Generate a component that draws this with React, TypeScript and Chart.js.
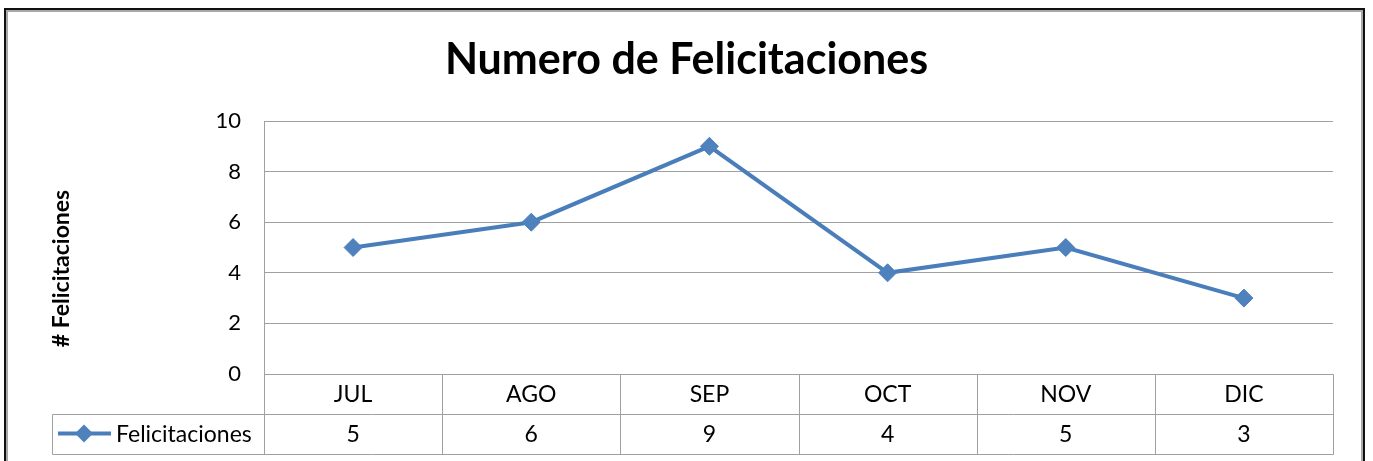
import React, { useEffect, useRef } from 'react';
import { Chart, registerables } from 'chart.js';

Chart.register(...registerables);

const categories = ['JUL', 'AGO', 'SEP', 'OCT', 'NOV', 'DIC'];
const felicitaciones = [5, 6, 9, 4, 5, 3];
const yTicks = [0, 2, 4, 6, 8, 10];
const seriesName = 'Felicitaciones';
const chartTitle = 'Numero de Felicitaciones';
const yAxisTitle = '# Felicitaciones';

const FONT = 'Lato';
const LINE_COLOR = '#4a7ebb';
const MARKER_COLOR = '#4f81bd';
const GRID_COLOR = '#a0a0a0';

const framePlugin = {
  id: 'frame',
  beforeDraw(chart: any) {
    const ctx = chart.ctx;
    ctx.save();
    ctx.fillStyle = '#ffffff';
    ctx.fillRect(0, 0, chart.width, chart.height);
    ctx.lineWidth = 2;
    ctx.strokeStyle = '#111111';
    ctx.strokeRect(5, 9, 1359, chart.height + 40);
    ctx.strokeStyle = '#a8a8a8';
    ctx.strokeRect(7, 11, 1355, chart.height + 40);
    ctx.restore();
  },
};

const yTitlePlugin = {
  id: 'yTitle',
  afterDraw(chart: any) {
    const { ctx, chartArea } = chart;
    ctx.save();
    ctx.translate(62, (chartArea.top + chartArea.bottom) / 2 + 21);
    ctx.rotate(-Math.PI / 2);
    ctx.fillStyle = '#000000';
    ctx.font = `bold 23px ${FONT}`;
    ctx.textAlign = 'center';
    ctx.textBaseline = 'middle';
    ctx.fillText(yAxisTitle, 0, 0);
    ctx.restore();
  },
};

const dataTablePlugin = {
  id: 'dataTable',
  afterDraw(chart: any) {
    const { ctx, chartArea } = chart;
    const xs = chart.scales.x;
    const px = (v: number) => Math.round(v) + 0.5;
    const left = px(chartArea.left);
    const right = px(chartArea.right);
    const top = px(chartArea.bottom);
    const rowH = 40;
    const legendLeft = 52.5;
    const half = (xs.getPixelForValue(1) - xs.getPixelForValue(0)) / 2;

    ctx.save();
    ctx.strokeStyle = GRID_COLOR;
    ctx.lineWidth = 1;
    ctx.beginPath();
    ctx.moveTo(left, top);
    ctx.lineTo(right, top);
    ctx.moveTo(legendLeft, top + rowH);
    ctx.lineTo(right, top + rowH);
    ctx.moveTo(legendLeft, top + 2 * rowH);
    ctx.lineTo(right, top + 2 * rowH);
    ctx.moveTo(legendLeft, top + rowH);
    ctx.lineTo(legendLeft, top + 2 * rowH);
    ctx.moveTo(left, top);
    ctx.lineTo(left, top + 2 * rowH);
    categories.forEach((_, i) => {
      const bx = px(xs.getPixelForValue(i) + half);
      ctx.moveTo(bx, top);
      ctx.lineTo(bx, top + 2 * rowH);
    });
    ctx.stroke();

    ctx.fillStyle = '#000000';
    ctx.font = `23px ${FONT}`;
    ctx.textAlign = 'center';
    ctx.textBaseline = 'middle';
    categories.forEach((c, i) => {
      const cx = xs.getPixelForValue(i);
      ctx.fillText(c, cx, top + rowH / 2);
      ctx.fillText(String(felicitaciones[i]), cx, top + 1.5 * rowH);
    });

    const ly = top + 1.5 * rowH - 1;
    ctx.strokeStyle = LINE_COLOR;
    ctx.lineWidth = 4;
    ctx.beginPath();
    ctx.moveTo(58, ly);
    ctx.lineTo(111, ly);
    ctx.stroke();
    const dx = 84;
    const r = 9;
    ctx.fillStyle = MARKER_COLOR;
    ctx.beginPath();
    ctx.moveTo(dx - r, ly);
    ctx.lineTo(dx, ly - r);
    ctx.lineTo(dx + r, ly);
    ctx.lineTo(dx, ly + r);
    ctx.closePath();
    ctx.fill();

    ctx.fillStyle = '#000000';
    ctx.textAlign = 'left';
    ctx.fillText(seriesName, 116, top + 1.5 * rowH);
    ctx.restore();
  },
};

export default function App() {
  const canvasRef = useRef<HTMLCanvasElement | null>(null);

  useEffect(() => {
    if (!canvasRef.current) return;
    const chart = new Chart(canvasRef.current, {
      type: 'line',
      data: {
        labels: categories,
        datasets: [
          {
            label: seriesName,
            data: felicitaciones,
            borderColor: LINE_COLOR,
            borderWidth: 4,
            backgroundColor: MARKER_COLOR,
            pointStyle: 'rectRot',
            pointRadius: 9,
            pointBorderWidth: 1,
            pointBorderColor: MARKER_COLOR,
            pointBackgroundColor: MARKER_COLOR,
            tension: 0,
          },
        ],
      },
      options: {
        animation: false,
        responsive: true,
        maintainAspectRatio: false,
        layout: { padding: { top: 0, left: 40, right: 40, bottom: 87 } },
        plugins: {
          legend: { display: false },
          tooltip: { enabled: false },
          title: {
            display: true,
            text: chartTitle,
            color: '#000000',
            font: { family: FONT, size: 43, weight: 'bold' },
            padding: { top: 34, bottom: 35.4 },
          },
        },
        scales: {
          x: {
            type: 'category',
            offset: true,
            display: false,
          },
          y: {
            min: yTicks[0],
            max: yTicks[yTicks.length - 1],
            afterFit: (scale: any) => {
              scale.width = 224;
            },
            ticks: {
              stepSize: yTicks[1] - yTicks[0],
              color: '#000000',
              padding: 23,
              font: { family: FONT, size: 22 },
            },
            grid: {
              color: GRID_COLOR,
              lineWidth: 1,
              drawTicks: false,
            },
            border: { display: true, color: GRID_COLOR, width: 1 },
            title: { display: false, text: yAxisTitle },
          },
        },
      },
      plugins: [framePlugin, dataTablePlugin, yTitlePlugin],
    });
    return () => chart.destroy();
  }, []);

  return (
    <div style={{ position: 'absolute', left: 0, top: 0, width: 1373, height: 461 }}>
      <canvas ref={canvasRef} />
    </div>
  );
}
